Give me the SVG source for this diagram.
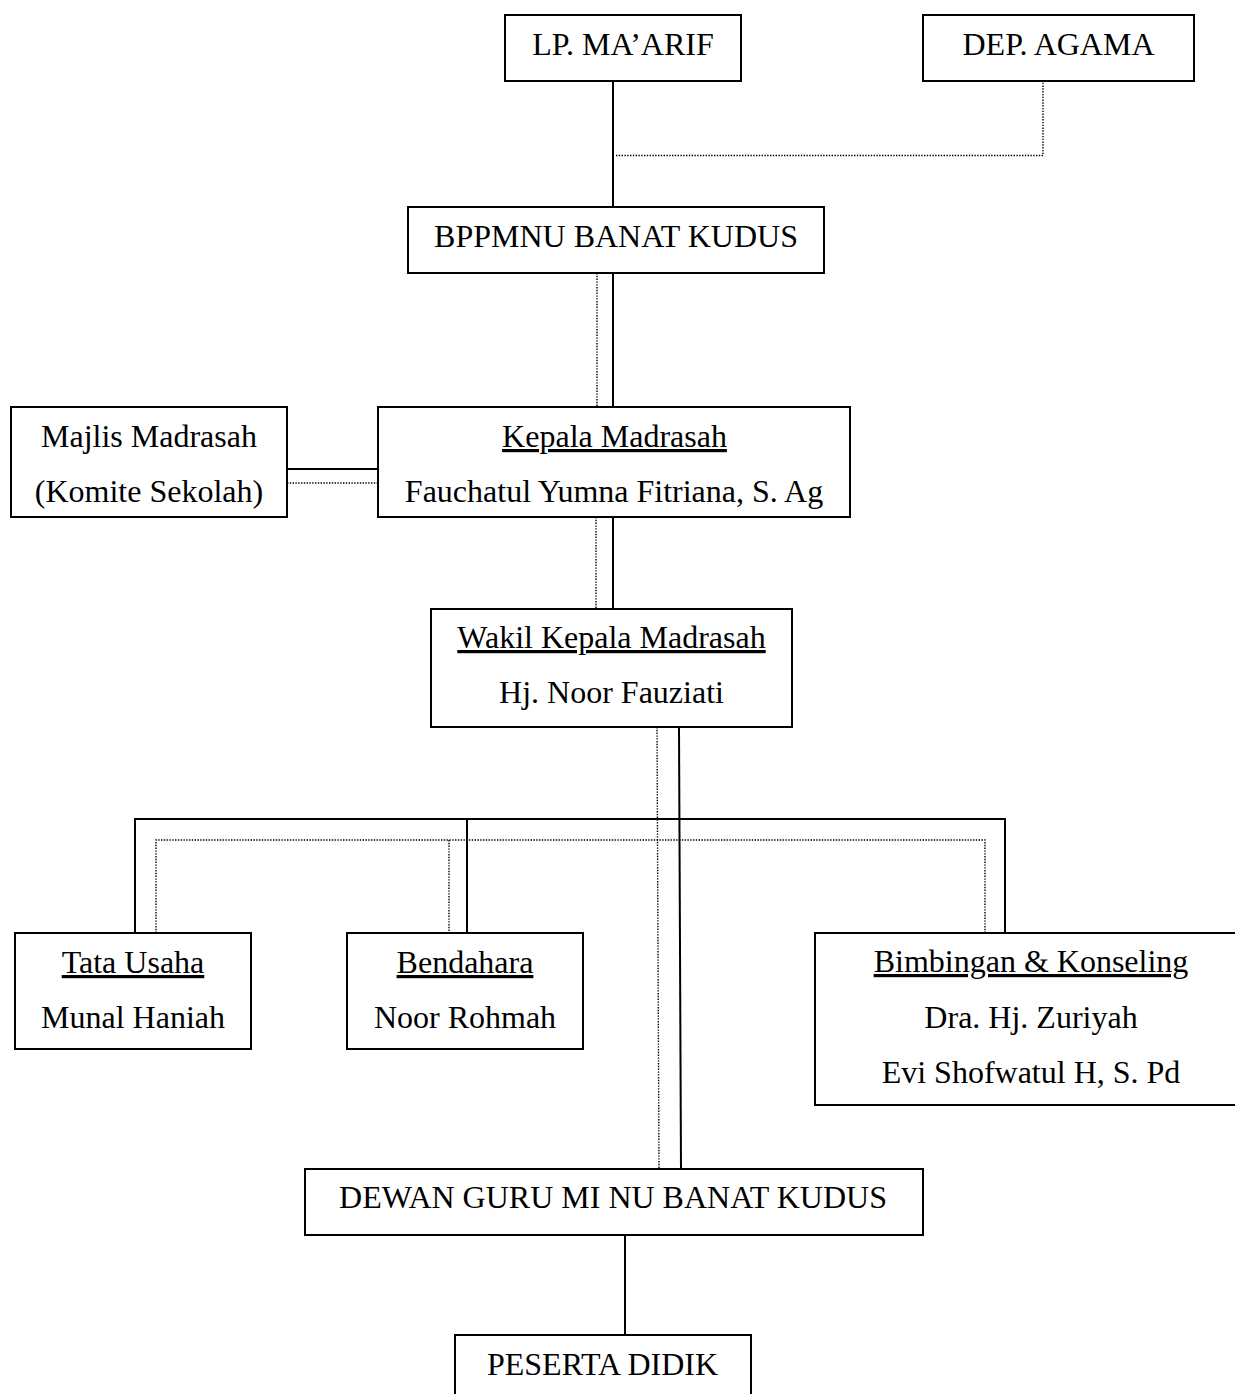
<svg xmlns="http://www.w3.org/2000/svg" width="1235" height="1394" viewBox="0 0 1235 1394">
<style>
.box{fill:#fff;stroke:#000;stroke-width:2}
.t{font-family:"Liberation Serif","Times New Roman",serif;font-size:32px;fill:#000;text-anchor:middle}
.u{text-decoration:underline}
.s{fill:none;stroke:#000;stroke-width:2}
.d{fill:none;stroke:#000;stroke-width:1.4;stroke-dasharray:1.4 1.4}
</style>
<rect width="1235" height="1394" fill="#fff"/>
<g id="connectors">
<line class="s" x1="613" y1="81" x2="613" y2="207"/>
<polyline class="d" points="616,155.5 1043,155.5 1043,81"/>
<line class="s" x1="613" y1="273" x2="613" y2="407"/>
<line class="d" x1="597" y1="273" x2="597" y2="407"/>
<line class="s" x1="287" y1="469" x2="378" y2="469"/>
<line class="d" x1="287" y1="483" x2="378" y2="483"/>
<line class="s" x1="613" y1="517" x2="613" y2="609"/>
<line class="d" x1="596" y1="517" x2="596" y2="609"/>
<line class="s" x1="679" y1="727" x2="681" y2="1169"/>
<line class="d" x1="657" y1="727" x2="659" y2="1169"/>
<polyline class="s" points="135,933 135,819 1005,819 1005,933"/>
<line class="s" x1="467" y1="819" x2="467" y2="933"/>
<polyline class="d" points="156,933 156,840 985,840 985,933"/>
<line class="d" x1="449" y1="840" x2="449" y2="933"/>
<line class="s" x1="625" y1="1235" x2="625" y2="1335"/>
</g>
<g id="lp-maarif"><rect class="box" x="505" y="15" width="236" height="66"/><text class="t" x="623" y="55">LP. MA’ARIF</text></g>
<g id="dep-agama"><rect class="box" x="923" y="15" width="271" height="66"/><text class="t" x="1058.5" y="55">DEP. AGAMA</text></g>
<g id="bppmnu"><rect class="box" x="408" y="207" width="416" height="66"/><text class="t" x="616" y="247">BPPMNU BANAT KUDUS</text></g>
<g id="majlis"><rect class="box" x="11" y="407" width="276" height="110"/><text class="t" x="149" y="447">Majlis Madrasah</text><text class="t" x="149" y="502">(Komite Sekolah)</text></g>
<g id="kepala"><rect class="box" x="378" y="407" width="472" height="110"/><text class="t u" x="614.5" y="447">Kepala Madrasah</text><text class="t" x="614" y="502">Fauchatul Yumna Fitriana, S. Ag</text></g>
<g id="wakil"><rect class="box" x="431" y="609" width="361" height="118"/><text class="t u" x="611.5" y="648">Wakil Kepala Madrasah</text><text class="t" x="611.5" y="703">Hj. Noor Fauziati</text></g>
<g id="tata-usaha"><rect class="box" x="15" y="933" width="236" height="116"/><text class="t u" x="133" y="973">Tata Usaha</text><text class="t" x="133" y="1028">Munal Haniah</text></g>
<g id="bendahara"><rect class="box" x="347" y="933" width="236" height="116"/><text class="t u" x="465" y="973">Bendahara</text><text class="t" x="465" y="1028">Noor Rohmah</text></g>
<g id="bk"><rect class="box" x="815" y="933" width="432" height="172"/><text class="t u" x="1031" y="972">Bimbingan &amp; Konseling</text><text class="t" x="1031" y="1028">Dra. Hj. Zuriyah</text><text class="t" x="1031" y="1083">Evi Shofwatul H, S. Pd</text></g>
<g id="dewan-guru"><rect class="box" x="305" y="1169" width="618" height="66"/><text class="t" x="613" y="1208">DEWAN GURU MI NU BANAT KUDUS</text></g>
<g id="peserta-didik"><rect class="box" x="455" y="1335" width="296" height="80"/><text class="t" x="602.5" y="1375">PESERTA DIDIK</text></g>
</svg>
